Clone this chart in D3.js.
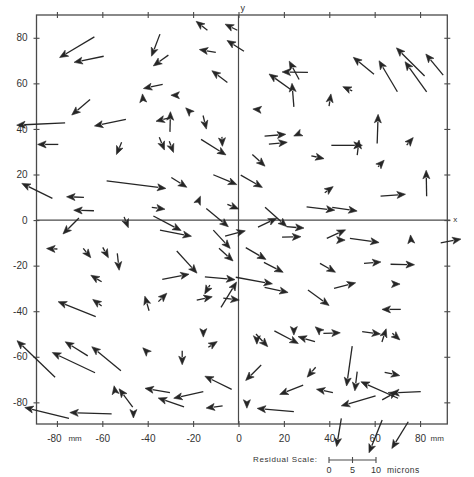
<!DOCTYPE html>
<html><head><meta charset="utf-8">
<script src="https://cdn.jsdelivr.net/npm/d3@7/dist/d3.min.js"></script>
<style>body{margin:0;background:#fff}svg{display:block}text{font-family:"Liberation Sans",Arial,sans-serif;fill:#333}</style>
</head><body><svg id="c" width="474" height="477"></svg>
<script>
// point positions (mm) and residuals (microns)
const posX = [-63.5,-59.4,-34.6,-30.9,-13.7,-0.5,2.4,-10.0,-4.9,-33.4,-42.1,-27.5,-65.4,-21.4,-30.2,-29.3,-15.6,-76.4,-49.6,-79.4,-51.5,-34.9,-30.5,-7.3,-16.5,-58.1,-29.6,-11.1,-82.0,-68.1,-63.7,-38.2,-18.0,-14.2,-4.9,-70.3,-50.4,-37.5,
30.6,26.7,23.0,24.4,39.9,50.1,59.7,70.0,82.9,82.0,90.2,8.6,61.1,11.5,13.4,26.2,40.9,52.3,74.1,6.1,32.1,61.5,1.0,82.9,38.0,62.6,30.0,41.3,11.7,
8.6,21.2,19.2,38.9,49.1,44.7,76.0,89.1,-5.9,3.2,11.2,35.9,55.3,67.0,-1.2,11.5,42.1,68.9,30.6,71.5,15.8,24.4,33.7,35.9,37.4,54.5,63.2,67.8,7.7,8.1,10.0,34.0,50.1,52.3,64.4,70.3,80.3,63.3,28.5,41.6,60.4,3.7,24.4,45.3,63.3,74.8,
-79.8,-68.4,-59.8,-53.4,-27.2,-34.6,-11.1,-8.6,-60.3,-33.6,-14.8,-7.7,-12.6,-18.4,-6.7,-39.4,-35.3,-60.3,-62.9,-15.5,
-80.8,-66.4,-63.2,-51.8,-40.3,-24.8,-13.3,-3.0,-30.2,-15.5,-24.0,-7.0,-46.6,-54.4,-46.3,-55.9,-74.7];
const posY = [80.4,71.9,81.6,72.4,83.3,83.3,74.1,73.6,60.4,59.6,53.1,54.8,52.9,47.4,38.7,45.2,45.9,42.7,44.2,33.2,34.1,36.3,34.6,36.5,35.4,17.2,18.7,19.9,9.5,10.0,4.1,5.6,7.6,5.1,6.9,0.9,1.4,1.8,
64.8,61.7,57.3,49.7,50.0,56.7,64.0,56.3,56.3,63.2,63.6,48.5,33.6,36.8,33.3,37.7,32.8,28.5,32.9,28.8,28.2,23.4,19.7,10.5,12.0,10.5,5.8,5.6,5.6,
-3.1,-2.9,-7.5,-8.0,-8.0,-8.8,-8.8,-10.0,-7.0,-12.1,-18.6,-19.0,-19.0,-19.4,-25.1,-29.5,-30.0,-28.1,-30.7,-39.2,-48.6,-48.2,-53.4,-48.7,-49.7,-49.0,-53.5,-49.7,-50.0,-52.2,-63.6,-64.6,-55.3,-66.5,-66.8,-78.2,-75.3,-78.9,-72.4,-75.7,-77.2,-80.3,-84.1,-87.0,-87.7,-88.5,
-12.7,-12.4,-12.0,-14.6,-13.6,-4.4,-4.4,-12.4,-27.1,-26.0,-24.9,-38.3,-28.5,-35.1,-34.3,-39.8,-35.8,-37.7,-42.4,-49.1,
-69.0,-59.6,-67.0,-66.1,-57.9,-57.3,-55.8,-74.3,-75.7,-75.3,-82.0,-81.5,-82.1,-75.0,-84.6,-85.1,-87.0];
const resX = [-7.4,-6.3,-1.8,-3.2,-2.4,-2.6,-3.6,-3.5,-3.3,-4.1,-0.1,-1.1,-3.9,-0.9,0.1,-3.4,0.7,-10.3,-6.7,-4.4,-1.1,1.1,0.9,0.1,5.3,12.6,3.3,5.0,-6.5,-3.7,-4.3,2.8,0.6,4.7,2.4,-3.4,0.9,5.9,
-5.5,-2.1,-4.6,-0.4,0.4,-2.0,-4.4,-3.9,-4.6,-6.0,-3.7,-1.1,0.2,4.5,3.9,-0.9,6.6,0.4,1.4,2.7,2.7,1.3,4.6,-0.1,1.8,5.3,6.0,5.3,4.6,
4.0,3.7,4.0,4.0,6.2,1.1,-0.1,4.3,4.3,4.3,4.1,3.3,3.6,5.1,7.8,5.0,4.6,1.1,4.5,-4.0,5.1,0,-3.6,-1.0,3.6,3.9,0.9,1.6,2.5,0,-3.3,-1.8,-1.2,-0.5,3.2,-7.9,-6.4,3.2,-5.0,-3.5,-7.3,0,-7.8,-1.0,-2.8,-3.5,
-2.3,1.6,1.2,0.4,4.3,6.7,3.6,3.0,-2.3,5.7,6.4,3.3,-1.1,3.3,3.4,-0.9,1.8,-1.9,-8.0,0,
-8.1,-4.8,-9.1,-6.2,-0.9,0,1.9,-5.7,-5.3,-6.3,-5.5,-3.5,-2.9,-0.2,0,-8.9,-9.4];
const resY = [-4.4,-1.3,-4.7,-2.3,1.9,1.3,2.3,0.6,2.5,-0.9,1.1,0,-3.3,0.9,4.3,-0.9,-2.9,-0.5,-1.4,0,-2.6,-2.7,-2.4,-2.0,-3.3,-1.6,-2.1,-2.1,3.2,0.1,0.1,-0.4,1.4,-3.9,-1.0,-3.4,-2.3,-3.1,
0.1,3.9,3.3,5.0,2.6,0.9,3.6,6.6,6.4,6.0,4.5,0.1,6.2,0.4,0.4,-0.4,0,3.2,1.6,-2.5,-0.6,1.4,-2.6,5.5,1.3,0.4,-0.7,-0.8,-4.1,
1.9,-0.3,0.1,1.8,-0.9,0,1.1,0.8,1.1,-2.5,-2.1,-1.9,0.3,-0.1,-1.4,-1.1,1.2,0,-3.3,0,-2.7,-1.1,1.1,0.9,0.1,-0.5,2.8,-1.4,-2.7,-1.1,-3.3,-2.1,-8.5,-4.1,-0.7,3.5,-0.3,1.8,-2.0,0.7,-2.1,-1.1,0.7,-6.0,-7.0,-5.7,
0.1,-2.0,-2.2,-3.6,-4.7,-1.3,-3.9,-2.7,1.4,1.1,-0.6,5.4,-1.9,0.7,-0.4,3.1,1.8,1.4,3.2,-1.1,
7.8,3.0,4.3,5.1,0.9,-3.0,1.2,2.8,0.9,-1.4,1.9,-0.5,3.9,1.1,-1.1,0.3,2.3];
const xTicks = [-80,-60,-40,-20,0,20,40,60,80];
const yTicks = [-80,-60,-40,-20,0,20,40,60,80];
const scaleTicks = [0,5,10];

const svg = d3.select("#c");
const x = d3.scaleLinear().domain([-89,92]).range([36.5,447.3]);
const y = d3.scaleLinear().domain([-89.5,90]).range([424,15]);
const r = d3.scaleLinear().domain([0,10]).range([0,47]);
const ink = "#262626", frameC = "#4a4a4a";

// frame
svg.append("rect").attr("x",x(-89)).attr("y",y(90)).attr("width",x(92)-x(-89)).attr("height",y(-89.5)-y(90))
  .attr("fill","none").attr("stroke",frameC).attr("stroke-width",1.3);

function fixTicks(g, horiz){
  g.select(".domain").remove();
  g.selectAll(".tick line").attr("stroke",frameC).attr("stroke-width",1.1);
  if(horiz) g.selectAll(".tick line").attr("y1",-3).attr("y2",3);
  else g.selectAll(".tick line").attr("x1",-3).attr("x2",3);
  g.selectAll(".tick text").attr("fill","#333").style("font-size","10px");
}
const gB = svg.append("g").attr("transform",`translate(0,${y(-89.5)})`)
  .call(d3.axisBottom(x).tickValues(xTicks).tickSize(3).tickPadding(8).tickFormat(d=>d3.format("d")(d).replace("−","-")));
fixTicks(gB,true);
gB.selectAll(".tick").filter(d=>d===-80||d===80).append("text").attr("x",d=>d<0?11:10).attr("y",11).attr("dy","0.71em")
  .attr("text-anchor","start").attr("fill","#333").style("font-size","8px").text("mm");
gB.selectAll(".tick").filter(d=>d===-80).select("text").attr("dx",-3);
const gT = svg.append("g").attr("transform",`translate(0,${y(90)})`)
  .call(d3.axisTop(x).tickValues(xTicks).tickSize(3).tickFormat(""));
fixTicks(gT,true);
const gL = svg.append("g").attr("transform",`translate(${x(-89)},0)`)
  .call(d3.axisLeft(y).tickValues(yTicks).tickSize(3).tickPadding(6).tickFormat(d=>d3.format("d")(d).replace("−","-")));
fixTicks(gL,false);
const gR = svg.append("g").attr("transform",`translate(${x(92)},0)`)
  .call(d3.axisRight(y).tickValues(yTicks).tickSize(3).tickFormat(""));
fixTicks(gR,false);

// axes through origin
svg.append("line").attr("x1",x(-89)).attr("x2",x(92)+3).attr("y1",y(0)).attr("y2",y(0)).attr("stroke",frameC).attr("stroke-width",1.2);
svg.append("line").attr("x1",x(0)).attr("x2",x(0)).attr("y1",y(90)).attr("y2",y(-89.5)).attr("stroke",frameC).attr("stroke-width",1.2);
svg.append("text").attr("x",x(92)+6).attr("y",y(0)+2).style("font-size","8px").text("x");
svg.append("text").attr("x",x(0)+2).attr("y",y(90)-4).style("font-size","9px").text("y");

// arrows
const data = posX.map((px,i)=>({x:px,y:posY[i],dx:resX[i],dy:resY[i]}));
const HL = 8.5, HW = 3.5;
const ga = svg.append("g");
data.forEach(d=>{
  const tx = x(d.x), ty = y(d.y);
  const hx = tx + r(d.dx), hy = ty - r(d.dy);
  const L = Math.hypot(hx-tx, hy-ty) || 1;
  const ux = (hx-tx)/L, uy = (hy-ty)/L;
  const bx = hx - ux*HL, by = hy - uy*HL;
  if (L > HL) ga.append("line").attr("x1",tx).attr("y1",ty).attr("x2",bx+ux*1).attr("y2",by+uy*1)
    .attr("stroke",ink).attr("stroke-width",1.3);
  ga.append("path").attr("d",`M${hx},${hy}L${bx - uy*HW},${by + ux*HW}L${bx+ux*2},${by+uy*2}L${bx + uy*HW},${by - ux*HW}Z`)
    .attr("fill",ink).attr("stroke",ink).attr("stroke-width",0.6).attr("stroke-linejoin","round");
});

// residual scale
const s0 = 329, sy = 460;
const gs = svg.append("g");
gs.append("text").attr("x",253).attr("y",sy+2).style("font-size","8px").style("letter-spacing","0.6px").text("Residual Scale:");
gs.append("line").attr("x1",s0+r(0)).attr("x2",s0+r(10)).attr("y1",sy).attr("y2",sy).attr("stroke",frameC).attr("stroke-width",1.1);
gs.selectAll("line.t").data(scaleTicks).join("line").attr("class","t")
  .attr("x1",d=>s0+r(d)).attr("x2",d=>s0+r(d)).attr("y1",sy-3).attr("y2",sy+3).attr("stroke",frameC).attr("stroke-width",1.1);
gs.selectAll("text.l").data(scaleTicks).join("text").attr("class","l")
  .attr("x",d=>s0+r(d)).attr("y",sy+13).attr("text-anchor","middle").style("font-size","9px").text(d=>d);
gs.append("text").attr("x",s0+r(10)+11).attr("y",sy+13).style("font-size","8.5px").style("letter-spacing","0.4px").text("microns");
</script></body></html>
